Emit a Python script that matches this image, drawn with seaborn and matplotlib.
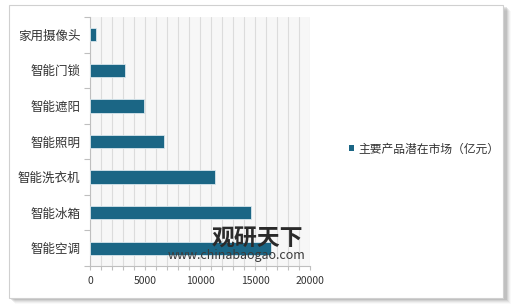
import matplotlib
matplotlib.use("Agg")
import matplotlib.pyplot as plt
import seaborn as sns
import pandas as pd
from matplotlib.patches import Rectangle, Patch
from matplotlib.ticker import MultipleLocator

categories = ["家用摄像头", "智能门锁", "智能遮阳", "智能照明", "智能洗衣机", "智能冰箱", "智能空调"]
values = [500, 3200, 4900, 6700, 11400, 14600, 16450]
series_name = "主要产品潜在市场（亿元）"
x_ticks = [0, 5000, 10000, 15000, 20000]

sns.set_theme(style="white")
plt.rcParams['font.family'] = ['Noto Sans CJK SC', 'DejaVu Sans']

W, H = 520, 308
fig = plt.figure(figsize=(W / 100, H / 100), dpi=100)
fig.patch.set_facecolor("white")

# frame with shadow
for i, a in enumerate([0.04, 0.07, 0.10, 0.14, 0.18]):
    off = 6 - i
    fig.patches.append(Rectangle(((9 + off) / W, 1 - (298 + off) / H), 496 / W, 293 / H,
                                 transform=fig.transFigure, facecolor=(0.45, 0.45, 0.45, a),
                                 edgecolor="none", zorder=-3))
fig.patches.append(Rectangle((9 / W, 1 - 298 / H), 494 / W, 293 / H, transform=fig.transFigure,
                             facecolor="white", edgecolor="#D0D0D0", linewidth=0.8, zorder=-2))

ax = fig.add_axes([90 / W, 1 - 266 / H, 220 / W, 249 / H])
ax.set_facecolor("#F7F7F7")

df = pd.DataFrame({"cat": categories, "val": values})
sns.barplot(data=df, x="val", y="cat", orient="h", color="#1B6685", saturation=1,
            width=0.37, edgecolor="#D8E6EC", linewidth=0.6, ax=ax, label=series_name, zorder=3)

ax.set_xlim(0, 20000)
ax.set_ylim(len(categories) - 0.5, -0.5)
ax.set_xticks(x_ticks)
ax.xaxis.set_minor_locator(MultipleLocator(1000))
ax.grid(axis="x", which="both", color="#DCDCDC", linewidth=0.8, zorder=0)
ax.set_axisbelow(True)
ax.set_xlabel("")
ax.set_ylabel("")

for s in ["top", "right"]:
    ax.spines[s].set_visible(False)
for s in ["left", "bottom"]:
    ax.spines[s].set_color("#BFBFBF")
    ax.spines[s].set_linewidth(0.8)

ax.set_yticks([i - 0.5 for i in range(len(categories) + 1)], minor=True)
ax.tick_params(axis="y", which="major", length=0, labelsize=9, labelcolor="#333333", pad=7)
ax.tick_params(axis="y", which="minor", length=4, color="#BFBFBF", width=0.8, left=True)
ax.tick_params(axis="x", which="both", length=3, color="#BFBFBF", width=0.8, bottom=True,
               direction="out")
ax.tick_params(axis="x", which="major", labelsize=7.5, labelcolor="#333333", pad=4)

leg = ax.legend(handles=[Patch(facecolor="#1B6685", edgecolor="none")], labels=[series_name],
                loc="center left", bbox_to_anchor=(338 / W, 1 - 149 / H),
                bbox_transform=fig.transFigure, frameon=False, fontsize=8.5,
                handlelength=0.45, handleheight=0.45, handletextpad=0.4, labelcolor="#333333")

# watermark
fig.text(212 / W, 1 - 239 / H, "观研天下", fontsize=16.5, fontweight="bold", color="#2A2A2A",
         va="center", ha="left", zorder=10)
fig.text(168 / W, 1 - 256 / H, "www.chinabaogao.com", fontsize=9, color="#3A3A3A",
         va="center", ha="left", zorder=10)

fig.savefig("out.png", dpi=100)
